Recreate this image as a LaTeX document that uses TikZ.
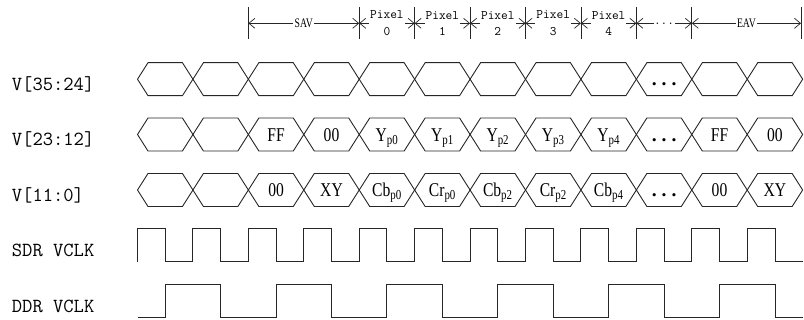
\documentclass[tikz,border=0pt]{standalone}
\usepackage{fontspec}
\setmainfont{Liberation Serif}
\usepackage{graphicx}
\usetikzlibrary{arrows.meta}
\newcommand{\datfont}{\fontsize{19.5}{20}\selectfont}
\newcommand{\dlab}[1]{\scalebox{0.8}[1]{\datfont #1}}
\newcommand{\alab}[1]{\scalebox{0.75}[1]{\fontsize{13}{13}\selectfont #1}}
\newcommand{\dotsdat}{{\datfont\bfseries .\hspace{5pt}.\hspace{5pt}.}}
\def\tzero{137.5}
\def\tstep{55.43}
\tikzset{
  wave/.style={line width=0.9pt, draw=black!85, line join=miter},
  rowlabel/.style={anchor=base west, inner sep=0pt, font=\ttfamily\fontsize{20}{20}\selectfont},
  datlabel/.style={anchor=base, inner sep=0pt},
  tickline/.style={line width=0.7pt, draw=black!85},
  measure/.style={line width=0.7pt, draw=black!85, {Straight Barb[length=6pt,width=10pt]}-{Straight Barb[length=6pt,width=10pt]}},
  pixlabel/.style={fill=white, inner sep=1pt, align=center, font=\ttfamily\fontsize{13}{16.5}\selectfont},
  avlabel/.style={fill=white, inner sep=1.5pt},
}
\begin{document}
\begin{tikzpicture}[x=1pt,y=-1pt]
\useasboundingbox (0,0) rectangle (804,320);
% ---- top measure axis ----
\foreach \i/\k in {0/2,1/4,2/5,3/6,4/7,5/8,6/9,7/10}{
  \coordinate (m\i) at ({\tzero+\k*\tstep},23.3);
}
\coordinate (m8) at (801,23.3);
\foreach \i in {0,...,8}{
  \draw[tickline] (m\i) ++(0,-16.3) -- ++(0,32);
}
\draw[measure] (m0) -- node[avlabel] (sav) {\alab{SAV}} (m1);
\draw[measure] (m1) -- node[pixlabel] (px0) {Pixel\\0} (m2);
\draw[measure] (m2) -- node[pixlabel] (px1) {Pixel\\1} (m3);
\draw[measure] (m3) -- node[pixlabel] (px2) {Pixel\\2} (m4);
\draw[measure] (m4) -- node[pixlabel] (px3) {Pixel\\3} (m5);
\draw[measure] (m5) -- node[pixlabel] (px4) {Pixel\\4} (m6);
\draw[measure] (m6) -- node[avlabel, inner sep=0.5pt, font=\ttfamily\fontsize{13}{13}\selectfont] (pxd) {...} (m7);
\draw[measure] (m7) -- node[avlabel] (eav) {\alab{EAV}} (m8);
% ---- bus rows ----
\foreach \yc in {79.2,134.5,190}{
  \foreach \k in {0,...,11}{
    \pgfmathsetmacro{\xl}{\tzero+\k*\tstep}
    \pgfmathsetmacro{\xr}{\tzero+(\k+1)*\tstep}
    \draw[wave] (\xl,\yc) -- (\xl+10.5,\yc-16.5) -- (\xr-10.5,\yc-16.5) -- (\xr,\yc)
      -- (\xr-10.5,\yc+16.5) -- (\xl+10.5,\yc+16.5) -- cycle;
  }
}
% row labels
\node[rowlabel] (l1) at (11.7,90.5) {V[35:24]};
\node[rowlabel] (l2) at (11.7,145.8) {V[23:12]};
\node[rowlabel] (l3) at (11.7,201.3) {V[11:0]};
\node[rowlabel] (l4) at (11.7,256.7) {SDR VCLK};
\node[rowlabel] (l5) at (11.7,312.5) {DDR VCLK};
% data labels row 1
\node[datlabel] (a9) at ({\tzero+9.5*\tstep},85.8) {\dotsdat};
% data labels row 2
\foreach \k/\t in {2/FF,3/00,4/{Y\textsubscript{p0}},5/{Y\textsubscript{p1}},6/{Y\textsubscript{p2}},7/{Y\textsubscript{p3}},8/{Y\textsubscript{p4}},10/FF,11/00}{
  \node[datlabel] (b\k) at ({\tzero+(\k+0.5)*\tstep},141.1) {\dlab{\t}};
}
\node[datlabel] (b9) at ({\tzero+9.5*\tstep},141.1) {\dotsdat};
% data labels row 3
\foreach \k/\t in {2/00,3/XY,4/{Cb\textsubscript{p0}},5/{Cr\textsubscript{p0}},6/{Cb\textsubscript{p2}},7/{Cr\textsubscript{p2}},8/{Cb\textsubscript{p4}},10/00,11/XY}{
  \node[datlabel] (c\k) at ({\tzero+(\k+0.5)*\tstep},196.6) {\dlab{\t}};
}
\node[datlabel] (c9) at ({\tzero+9.5*\tstep},196.6) {\dotsdat};
% ---- clocks ----
\coordinate (sdr0) at (\tzero,261.7);
\draw[wave] (sdr0) \foreach \k in {1,...,12}{ -- ++(0,-33) -- ++(\tstep/2,0) -- ++(0,33) -- ++(\tstep/2,0)};
\coordinate (ddr0) at (\tzero,317.3);
\draw[wave] (ddr0) -- ++(\tstep/2,0)
  \foreach \k in {1,...,5}{ -- ++(0,-33) -- ++(\tstep,0) -- ++(0,33) -- ++(\tstep,0)}
  -- ++(0,-33) -- ++(\tstep,0) -- ++(0,33) -- ++(\tstep/2,0);
\end{tikzpicture}
\end{document}
